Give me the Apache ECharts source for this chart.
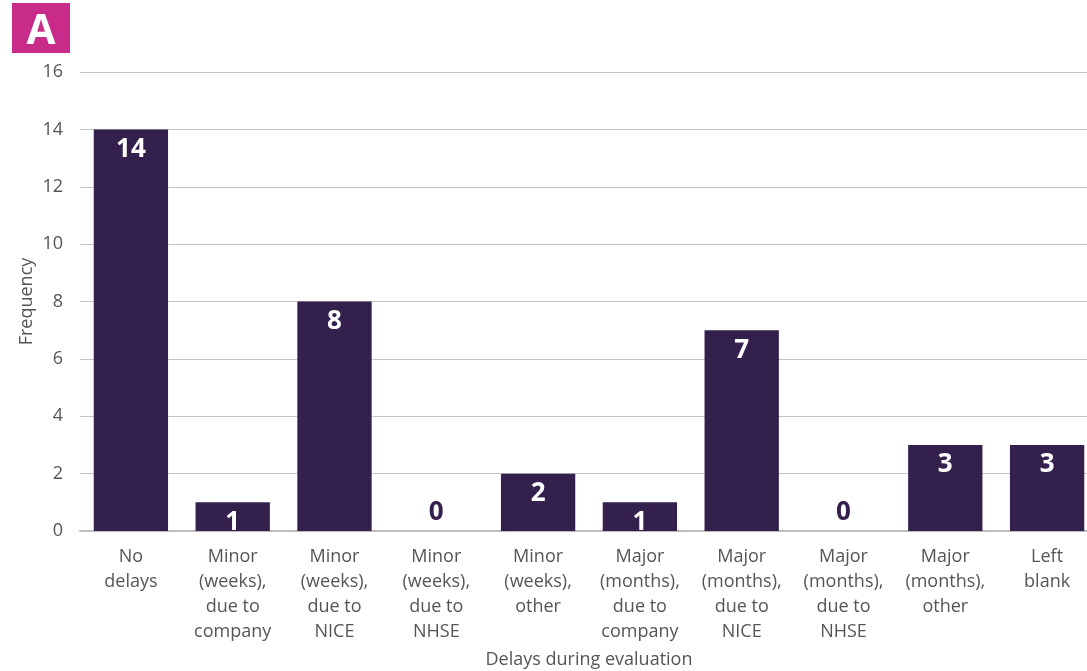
<!DOCTYPE html>
<html>
<head>
<meta charset="utf-8">
<script src="https://cdn.jsdelivr.net/npm/echarts@6/dist/echarts.min.js"></script>
<style>
  html, body { margin: 0; padding: 0; background: #fff; overflow: hidden; }
  #main { width: 1087px; height: 671px; position: relative; }
  #badge { position: absolute; left: 12px; top: 3px; width: 58px; height: 50px; background: #c92b8b;
           color: #fff; font: bold 42px "Open Sans", sans-serif; text-align: center; line-height: 50px; z-index: 2; }
</style>
</head>
<body>
<div id="main"></div>
<div id="badge">A</div>
<script>
var delayCategories = [
    'No\ndelays',
    'Minor\n(weeks),\ndue to\ncompany',
    'Minor\n(weeks),\ndue to\nNICE',
    'Minor\n(weeks),\ndue to\nNHSE',
    'Minor\n(weeks),\nother',
    'Major\n(months),\ndue to\ncompany',
    'Major\n(months),\ndue to\nNICE',
    'Major\n(months),\ndue to\nNHSE',
    'Major\n(months),\nother',
    'Left\nblank'
];
var frequencyValues = [14, 1, 8, 0, 2, 1, 7, 0, 3, 3];

var fontFam = '"Open Sans", sans-serif';
var barColor = '#33204d';

var chart = echarts.init(document.getElementById('main'), null, { width: 1087, height: 671 });

// zero bars get their label above the axis, in the bar colour
var barData = frequencyValues.map(function (v) {
    if (v === 0) {
        return { value: v, label: { position: 'top', color: barColor, distance: 5 } };
    }
    return v;
});

var option = {
    animation: false,
    textStyle: { fontFamily: fontFam },
    grid: { left: 80, right: -11, top: 72, bottom: 140, containLabel: false, outerBoundsMode: 'none' },
    xAxis: {
        type: 'category',
        data: delayCategories,
        name: 'Delays during evaluation',
        nameLocation: 'middle',
        nameGap: 120,
        nameMoveOverlap: false,
        nameTextStyle: { fontSize: 18, color: '#555', fontFamily: fontFam },
        axisLine: { lineStyle: { color: '#bdbdbd', width: 2 } },
        axisTick: { show: false },
        axisLabel: { interval: 0, fontSize: 18, lineHeight: 25, color: '#555', margin: 13, fontFamily: fontFam }
    },
    yAxis: {
        type: 'value',
        min: 0,
        max: 16,
        interval: 2,
        name: 'Frequency',
        nameLocation: 'middle',
        nameGap: 44,
        nameMoveOverlap: false,
        nameTextStyle: { fontSize: 18, color: '#555', fontFamily: fontFam },
        axisLabel: { fontSize: 18, color: '#555', margin: 17, fontFamily: fontFam },
        splitLine: { lineStyle: { color: '#c4c4c4', width: 1 } }
    },
    series: [{
        type: 'bar',
        data: barData,
        barWidth: '73%',
        itemStyle: { color: barColor },
        label: {
            show: true,
            position: 'insideTop',
            distance: 7,
            color: '#fff',
            fontWeight: 'bold',
            fontSize: 26,
            fontFamily: fontFam
        }
    }]
};

chart.setOption(option);
</script>
</body>
</html>
